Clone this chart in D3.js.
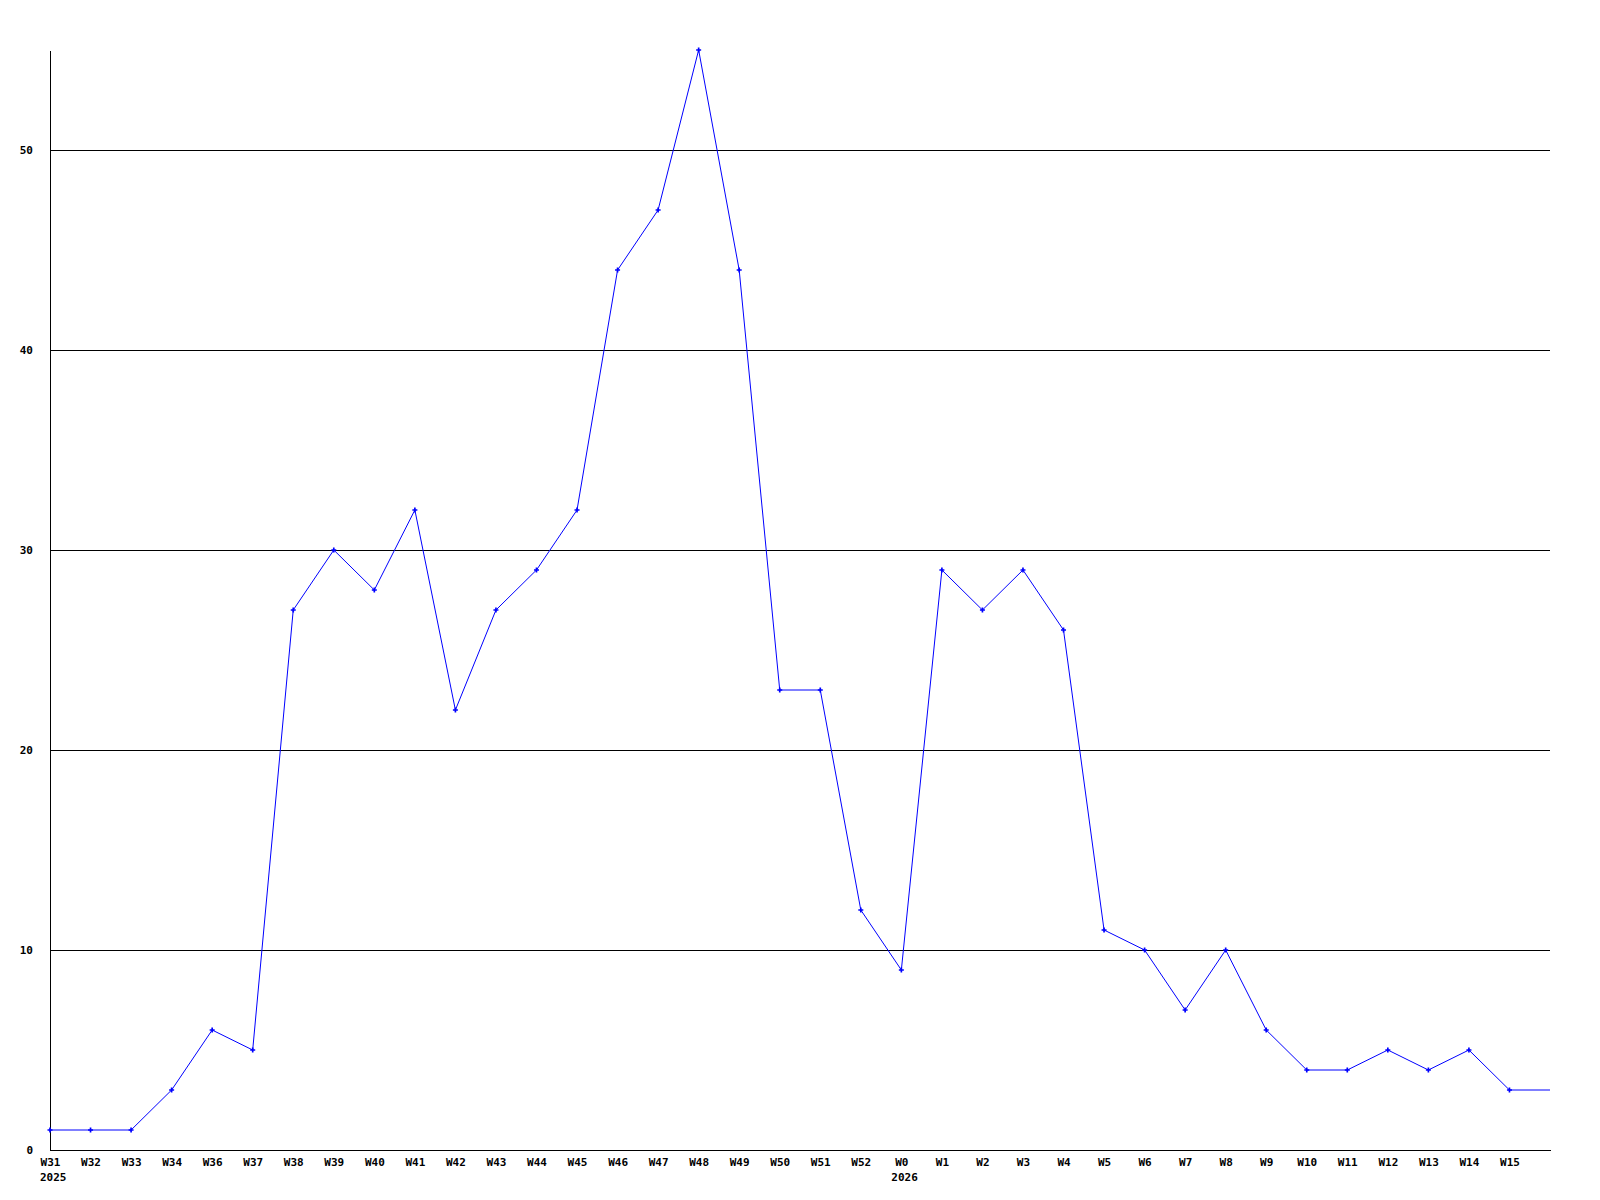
<!DOCTYPE html>
<html>
<head>
<meta charset="utf-8">
<script src="https://cdn.jsdelivr.net/npm/d3@7"></script>
<style>
  body { margin: 0; background: #fff; }
  text { font-family: "DejaVu Sans Mono", monospace; font-weight: bold; font-size: 11px; fill: #000; }
</style>
</head>
<body>
<div id="chart"></div>
<script>
// weekly counts
var weeks = ["W31","W32","W33","W34","W36","W37","W38","W39","W40","W41","W42","W43","W44","W45",
    "W46","W47","W48","W49","W50","W51","W52","W0","W1","W2","W3","W4","W5","W6","W7","W8",
    "W9","W10","W11","W12","W13","W14","W15",""];
var counts = [1,1,1,3,6,5,27,30,28,32,22,27,29,32,44,47,55,44,23,23,12,9,29,27,29,26,11,10,7,10,6,4,4,5,4,5,3,3];
var yearLabels = [{week: "W31", text: "2025"}, {week: "W0", text: "2026"}];
var yTicks = [0,10,20,30,40,50];

var svgWidth = 1600, svgHeight = 1200;
var margin = {top: 50, right: 50, bottom: 50, left: 50};
var width = svgWidth - margin.left - margin.right;
var height = svgHeight - margin.top - margin.bottom;

var svg = d3.select("#chart").append("svg")
    .attr("width", svgWidth)
    .attr("height", svgHeight);

var g = svg.append("g")
    .attr("transform", `translate(${margin.left},${margin.top})`);

var idx = d3.range(counts.length);
var xScale = d3.scaleLinear().domain([0, counts.length - 1]).range([0, width]);
var yScale = d3.scaleLinear().domain([0, 55]).range([height, 0]);

// grid lines
g.selectAll(".grid")
    .data(yTicks.filter(d => d > 0))
    .enter().append("line")
    .attr("x1", 0).attr("x2", width)
    .attr("y1", d => Math.round(yScale(d)) + 0.5)
    .attr("y2", d => Math.round(yScale(d)) + 0.5)
    .attr("stroke", "#000")
    .attr("shape-rendering", "crispEdges");

// y axis
var yAxis = d3.axisLeft(yScale).tickValues(yTicks).tickSize(0).tickPadding(17);
var yG = g.append("g").call(yAxis);
yG.select(".domain").attr("stroke", "#000").attr("shape-rendering", "crispEdges");
yG.selectAll("text").attr("dy", "0.35em");

// x axis
var xAxis = d3.axisBottom(xScale).tickValues(idx).tickFormat(i => weeks[i]).tickSize(0).tickPadding(8);
var xG = g.append("g").attr("transform", `translate(0,${height})`).call(xAxis);
xG.select(".domain").attr("stroke", "#000").attr("shape-rendering", "crispEdges");

// year labels under the first week of each year
g.selectAll(".year")
    .data(yearLabels)
    .enter().append("text")
    .attr("x", d => xScale(weeks.indexOf(d.week)) - 10)
    .attr("y", height + 31)
    .text(d => d.text);

// line
var line = d3.line()
    .x(i => xScale(i))
    .y(i => yScale(counts[i]));

g.append("path")
    .datum(idx)
    .attr("fill", "none")
    .attr("stroke", "#0000ff")
    .attr("stroke-width", 1)
    .attr("d", line);

// markers: small crosses (none on the trailing, unlabeled week)
g.selectAll(".pt")
    .data(idx.filter(i => weeks[i] !== ""))
    .enter().append("path")
    .attr("transform", i => `translate(${xScale(i)},${yScale(counts[i])})`)
    .attr("d", d3.symbol(d3.symbolCross, 14))
    .attr("fill", "#0000ff");
</script>
</body>
</html>
